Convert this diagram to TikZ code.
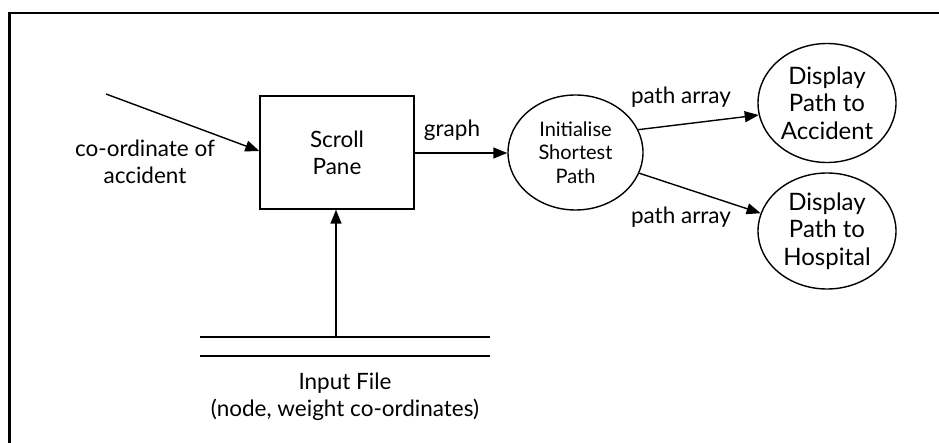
\documentclass[tikz,border=0pt]{standalone}
\usepackage{fontspec}
\setmainfont{Lato}
\usetikzlibrary{arrows.meta,shapes.geometric}
\begin{document}
\begin{tikzpicture}[x=1pt,y=-1pt,
  line width=1.4pt,
  arr/.style={-{Triangle[length=14pt,width=11pt]}},
  proc/.style={draw,ellipse,inner sep=0pt,align=center},
  lbl/.style={font=\fontsize{22.5}{27}\selectfont,align=center,inner sep=0pt}]
\useasboundingbox (0,0) rectangle (939,443);
\draw[line width=2.2pt] (9.5,443) -- (9.5,13) -- (939,13);
% Scroll pane box
\node[draw,minimum width=154pt,minimum height=113pt,inner sep=0pt,lbl] (sp) at (337,152.5) {Scroll\\Pane};
% input
\coordinate (cin) at (106,94);
\draw[arr] (cin) -- (sp.west |- 0,151);
\node[lbl] (clab) at (145,162) {co-ordinate of\\accident};
% Initialise
\node[proc,minimum width=135pt,minimum height=115pt,font=\fontsize{20}{23.5}\selectfont] (init) at (575.5,152.5) {Initialise\\Shortest\\Path};
\draw[arr] (sp.east |- 0,153) -- (init.west |- 0,153);
\node[lbl,anchor=south] (glab) at (452,141) {graph};
% Displays
\node[proc,minimum width=138pt,minimum height=119pt,font=\fontsize{24}{27.5}\selectfont] (acc) at (827,103) {Display\\Path to\\Accident};
\node[proc,minimum width=138pt,minimum height=116pt,font=\fontsize{24}{27.5}\selectfont] (hos) at (827,231) {Display\\Path to\\Hospital};
\draw[arr] (init.20) -- (acc.190);
\draw[arr] (init.-18) -- (hos.165);
\node[lbl] (pa1) at (681,97) {path array};
\node[lbl] (pa2) at (681,217) {path array};
% Input file
\coordinate (f1l) at (200,337);
\coordinate (f1r) at (490,337);
\coordinate (f2l) at (200,356);
\coordinate (f2r) at (490,356);
\draw (f1l) -- (f1r);
\draw (f2l) -- (f2r);
\coordinate (fin) at (336,337);
\draw[arr] (fin) -- (sp.south -| fin);
\node[lbl] (flab) at (345,397) {Input File\\(node, weight co-ordinates)};
\end{tikzpicture}
\end{document}
